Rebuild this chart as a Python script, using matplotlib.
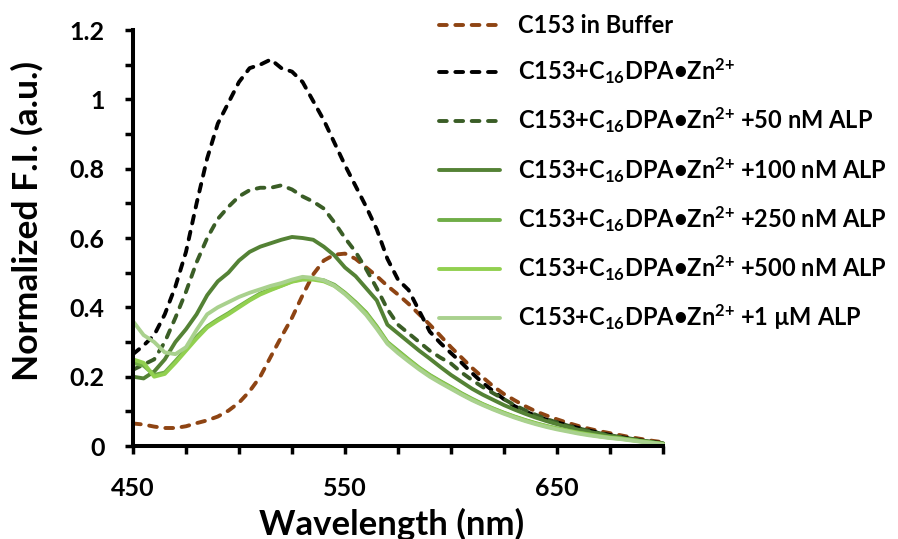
import matplotlib
matplotlib.use("Agg")
import matplotlib.pyplot as plt
from matplotlib.ticker import MultipleLocator, FixedLocator

plt.rcParams['font.family'] = ['Lato', 'DejaVu Sans']
plt.rcParams['font.weight'] = 'bold'
plt.rcParams['mathtext.fontset'] = 'custom'
plt.rcParams['mathtext.rm'] = 'Lato:bold'
plt.rcParams['mathtext.it'] = 'Lato:bold'
plt.rcParams['mathtext.bf'] = 'Lato:bold'

# wavelength grid (nm), 5 nm steps
wavelength = list(range(450, 701, 5))

buffer_only = [0.065, 0.062, 0.056, 0.052, 0.052, 0.057, 0.066, 0.074, 0.085, 0.102,
               0.125, 0.158, 0.200, 0.258, 0.315, 0.370, 0.435, 0.495, 0.535, 0.552,
               0.555, 0.540, 0.515, 0.490, 0.462, 0.437, 0.410, 0.380, 0.350, 0.318,
               0.285, 0.255, 0.225, 0.198, 0.172, 0.150, 0.132, 0.115, 0.100, 0.088,
               0.077, 0.067, 0.058, 0.050, 0.043, 0.037, 0.031, 0.025, 0.020, 0.015,
               0.011]
dpa_zn = [0.265, 0.290, 0.320, 0.380, 0.460, 0.560, 0.700, 0.830, 0.930, 0.990,
          1.050, 1.090, 1.100, 1.115, 1.090, 1.080, 1.050, 0.995, 0.940, 0.875,
          0.810, 0.750, 0.690, 0.625, 0.540, 0.480, 0.450, 0.390, 0.330, 0.297,
          0.268, 0.240, 0.210, 0.182, 0.158, 0.135, 0.115, 0.100, 0.087, 0.076,
          0.068, 0.060, 0.052, 0.045, 0.038, 0.032, 0.026, 0.021, 0.016, 0.012,
          0.008]
alp_50 = [0.220, 0.235, 0.250, 0.300, 0.370, 0.445, 0.530, 0.600, 0.655, 0.690,
          0.720, 0.738, 0.745, 0.745, 0.752, 0.740, 0.720, 0.705, 0.685, 0.645,
          0.600, 0.560, 0.510, 0.455, 0.395, 0.350, 0.325, 0.300, 0.275, 0.255,
          0.238, 0.212, 0.190, 0.170, 0.152, 0.135, 0.118, 0.103, 0.090, 0.078,
          0.068, 0.059, 0.051, 0.044, 0.037, 0.031, 0.026, 0.021, 0.016, 0.012,
          0.008]
alp_100 = [0.200, 0.195, 0.215, 0.250, 0.300, 0.337, 0.380, 0.435, 0.475, 0.500,
           0.535, 0.560, 0.575, 0.585, 0.595, 0.603, 0.600, 0.595, 0.575, 0.550,
           0.515, 0.490, 0.455, 0.420, 0.350, 0.325, 0.300, 0.275, 0.252, 0.228,
           0.205, 0.185, 0.165, 0.148, 0.133, 0.118, 0.105, 0.093, 0.082, 0.072,
           0.063, 0.055, 0.047, 0.041, 0.035, 0.029, 0.024, 0.019, 0.015, 0.011,
           0.007]
alp_250 = [0.240, 0.232, 0.205, 0.212, 0.245, 0.280, 0.315, 0.345, 0.365, 0.383,
           0.403, 0.422, 0.440, 0.452, 0.463, 0.475, 0.482, 0.482, 0.478, 0.465,
           0.442, 0.415, 0.385, 0.345, 0.300, 0.275, 0.250, 0.226, 0.205, 0.187,
           0.170, 0.152, 0.136, 0.121, 0.108, 0.096, 0.085, 0.075, 0.066, 0.058,
           0.051, 0.045, 0.039, 0.034, 0.029, 0.025, 0.022, 0.018, 0.014, 0.010,
           0.006]
alp_500 = [0.250, 0.240, 0.200, 0.208, 0.240, 0.275, 0.310, 0.342, 0.362, 0.380,
           0.400, 0.420, 0.437, 0.450, 0.462, 0.474, 0.480, 0.480, 0.475, 0.462,
           0.440, 0.412, 0.382, 0.342, 0.298, 0.272, 0.248, 0.224, 0.203, 0.185,
           0.168, 0.150, 0.134, 0.120, 0.107, 0.095, 0.084, 0.074, 0.065, 0.057,
           0.050, 0.044, 0.038, 0.033, 0.028, 0.024, 0.021, 0.017, 0.013, 0.009,
           0.006]
alp_1000 = [0.360, 0.320, 0.300, 0.270, 0.265, 0.285, 0.335, 0.380, 0.400, 0.415,
            0.430, 0.442, 0.452, 0.462, 0.470, 0.480, 0.488, 0.485, 0.478, 0.462,
            0.438, 0.410, 0.378, 0.338, 0.295, 0.268, 0.244, 0.221, 0.200, 0.182,
            0.165, 0.148, 0.132, 0.118, 0.105, 0.093, 0.082, 0.072, 0.063, 0.055,
            0.048, 0.042, 0.036, 0.031, 0.027, 0.023, 0.020, 0.016, 0.012, 0.009,
            0.005]

y_ticks = [0, 0.2, 0.4, 0.6, 0.8, 1.0, 1.2]
y_tick_labels = ["0", "0.2", "0.4", "0.6", "0.8", "1", "1.2"]
x_ticks = [450, 550, 650]

base = "C153+C$_{16}$DPA\u2022Zn$^{\\text{2+}}$"
labels = ["C153 in Buffer", base,
          base + " +50 nM ALP", base + " +100 nM ALP", base + " +250 nM ALP",
          base + " +500 nM ALP", base + " +1 \u00b5M ALP"]
series = [buffer_only, dpa_zn, alp_50, alp_100, alp_250, alp_500, alp_1000]
colors = ["#8E4413", "#000000", "#3A5D26", "#548235", "#70AD47", "#92D050", "#A9D18E"]
dashed = [True, True, True, False, False, False, False]

fig = plt.figure(figsize=(8.98, 5.39), dpi=100)
ax = fig.add_axes([0.1481, 0.1725, 0.5902, 0.7718])

for vals, lab, col, dsh in zip(series, labels, colors, dashed):
    if dsh:
        ax.plot(wavelength, vals, color=col, lw=2.8, label=lab, clip_on=False,
                dashes=(2.0, 2.2), dash_capstyle="round")
    else:
        ax.plot(wavelength, vals, color=col, lw=2.8, label=lab, clip_on=False,
                solid_capstyle="round")

ax.set_xlim(450, 700)
ax.set_ylim(0, 1.2)

ax.xaxis.set_major_locator(FixedLocator(x_ticks))
ax.xaxis.set_minor_locator(MultipleLocator(25))
ax.set_yticks(y_ticks, y_tick_labels)
ax.yaxis.set_minor_locator(MultipleLocator(0.1))

for side in ["top", "right"]:
    ax.spines[side].set_visible(False)
for side in ["left", "bottom"]:
    ax.spines[side].set_linewidth(2.9)

ax.tick_params(axis="both", which="both", direction="out", length=5.5, width=2.5)
ax.tick_params(axis="x", which="major", pad=17, labelsize=18)
ax.tick_params(axis="y", which="major", pad=15, labelsize=18)

ax.set_xlabel("Wavelength (nm)", fontsize=25, fontweight="bold")
ax.set_ylabel("Normalized F.I. (a.u.)", fontsize=25.5, fontweight="bold")
ax.xaxis.set_label_coords(0.487, -0.148)
ax.yaxis.set_label_coords(-0.168, 0.54)

ax.legend(loc="upper left", bbox_to_anchor=(439 / 898, 1 - 14 / 539),
          bbox_transform=fig.transFigure, frameon=False, fontsize=17,
          borderpad=0, borderaxespad=0, handlelength=2.6, handletextpad=0.75,
          labelspacing=0.83)

fig.savefig("out.png", dpi=100)
